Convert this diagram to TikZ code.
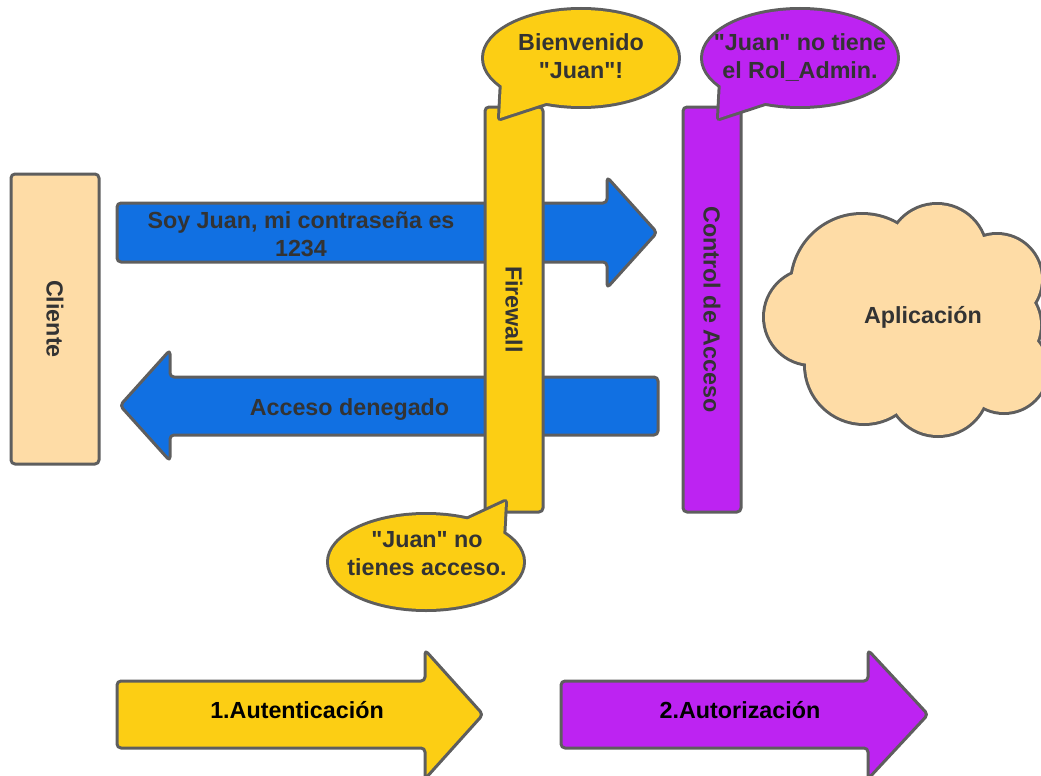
\documentclass[tikz,border=0pt]{standalone}
\usepackage{fontspec}
\setmainfont{Liberation Sans}[Ligatures=TeXOff]
\definecolor{edge}{HTML}{5E5E5E}
\definecolor{ink}{HTML}{333333}
\definecolor{sun}{HTML}{FCCE14}
\definecolor{sky}{HTML}{1170E2}
\definecolor{violet}{HTML}{BD23F2}
\definecolor{peach}{HTML}{FEDCA6}
\tikzset{
  outline/.style={draw=edge, line width=3pt, line join=round},
  words/.style={font=\fontsize{23.3}{28}\selectfont\bfseries, text=ink, align=center, inner sep=0pt},
  bar/.style={outline, rounded corners=4pt, rotate=-90, words},
  shaft/.style={outline, rounded corners=4pt},
  % two-pass outline: a wide stroke first, the fill on top keeps only its outer half
  puffrim/.style={draw=edge, line width=6pt, line join=round},
}
\begin{document}
\begin{tikzpicture}[x=1pt, y=-1pt]
\useasboundingbox (0,0) rectangle (1041,776);
\clip (0,0) rectangle (1041,776);

% request and answer arrows
\path[shaft, fill=sky] (117,203) -- (607,203) -- (607,177) -- (657,232.5) -- (607,288) -- (607,262) -- (117,262) -- cycle;
\node[words] (req) at (301,234) {Soy Juan, mi contraseña es\\1234};
\path[shaft, fill=sky] (658,377) -- (170,377) -- (170,350) -- (120,405.5) -- (170,461) -- (170,435) -- (658,435) -- cycle;
\node[words, anchor=base] (deny) at (349.5,415) {Acceso denegado};

% vertical bars
\node[bar, fill=peach, minimum width=290pt, minimum height=88pt] (cliente) at (55,319) {Cliente};
\node[bar, fill=sun, minimum width=405pt, minimum height=58pt] (firewall) at (514,309.5) {Firewall};
\node[bar, fill=violet, minimum width=405pt, minimum height=58pt] (acl) at (712,309.5) {Control de Acceso};

% speech bubbles
\path[puffrim, fill=sun] (581,58) ellipse [x radius=97, y radius=48];
\path[puffrim, fill=sun] (502,80) -- (500,118) -- (555,100) -- cycle;
\fill[sun] (581,58) ellipse [x radius=97, y radius=48];
\fill[sun] (502,80) -- (500,118) -- (555,100) -- cycle;
\node[words] (hello) at (581,56) {Bienvenido\\"Juan"!};

\path[puffrim, fill=violet] (800,58) ellipse [x radius=97, y radius=48];
\path[puffrim, fill=violet] (721,80) -- (719,118) -- (774,100) -- cycle;
\fill[violet] (800,58) ellipse [x radius=97, y radius=48];
\fill[violet] (721,80) -- (719,118) -- (774,100) -- cycle;
\node[words] (norole) at (800,57.5) {"Juan" no tiene\\el Rol\_Admin.};

\path[puffrim, fill=sun] (426,562) ellipse [x radius=97, y radius=47];
\path[puffrim, fill=sun] (462,522) -- (505,502) -- (503,540) -- cycle;
\fill[sun] (426,562) ellipse [x radius=97, y radius=47];
\fill[sun] (462,522) -- (505,502) -- (503,540) -- cycle;
\node[words] (noaccess) at (427,553.5) {"Juan" no\\tienes acceso.};

% application cloud
\foreach \cx/\cy/\r in {812/317/47, 862/285/70, 937/254/49, 997/279/44, 996/325/44, 1004/369/43, 938/385/50, 864/365/58}
  \path[puffrim, fill=peach] (\cx,\cy) circle [radius=\r];
\foreach \cx/\cy/\r in {812/317/47, 862/285/70, 937/254/49, 997/279/44, 996/325/44, 1004/369/43, 938/385/50, 864/365/58}
  \fill[peach] (\cx,\cy) circle [radius=\r];
\fill[peach] (920,320) ellipse [x radius=110, y radius=80];
\node[words, anchor=base] (app) at (923,323) {Aplicación};

% phase arrows
\path[shaft, fill=sun] (117,681) -- (425,681) -- (425,650) -- (483,714.5) -- (425,779) -- (425,748) -- (117,748) -- cycle;
\node[words, text=black, anchor=base] (authn) at (297,718) {1.Autenticación};
\path[shaft, fill=violet] (561,681) -- (868,681) -- (868,650) -- (928,714.5) -- (868,779) -- (868,748) -- (561,748) -- cycle;
\node[words, text=black, anchor=base] (authz) at (740,718) {2.Autorización};
\end{tikzpicture}
\end{document}
